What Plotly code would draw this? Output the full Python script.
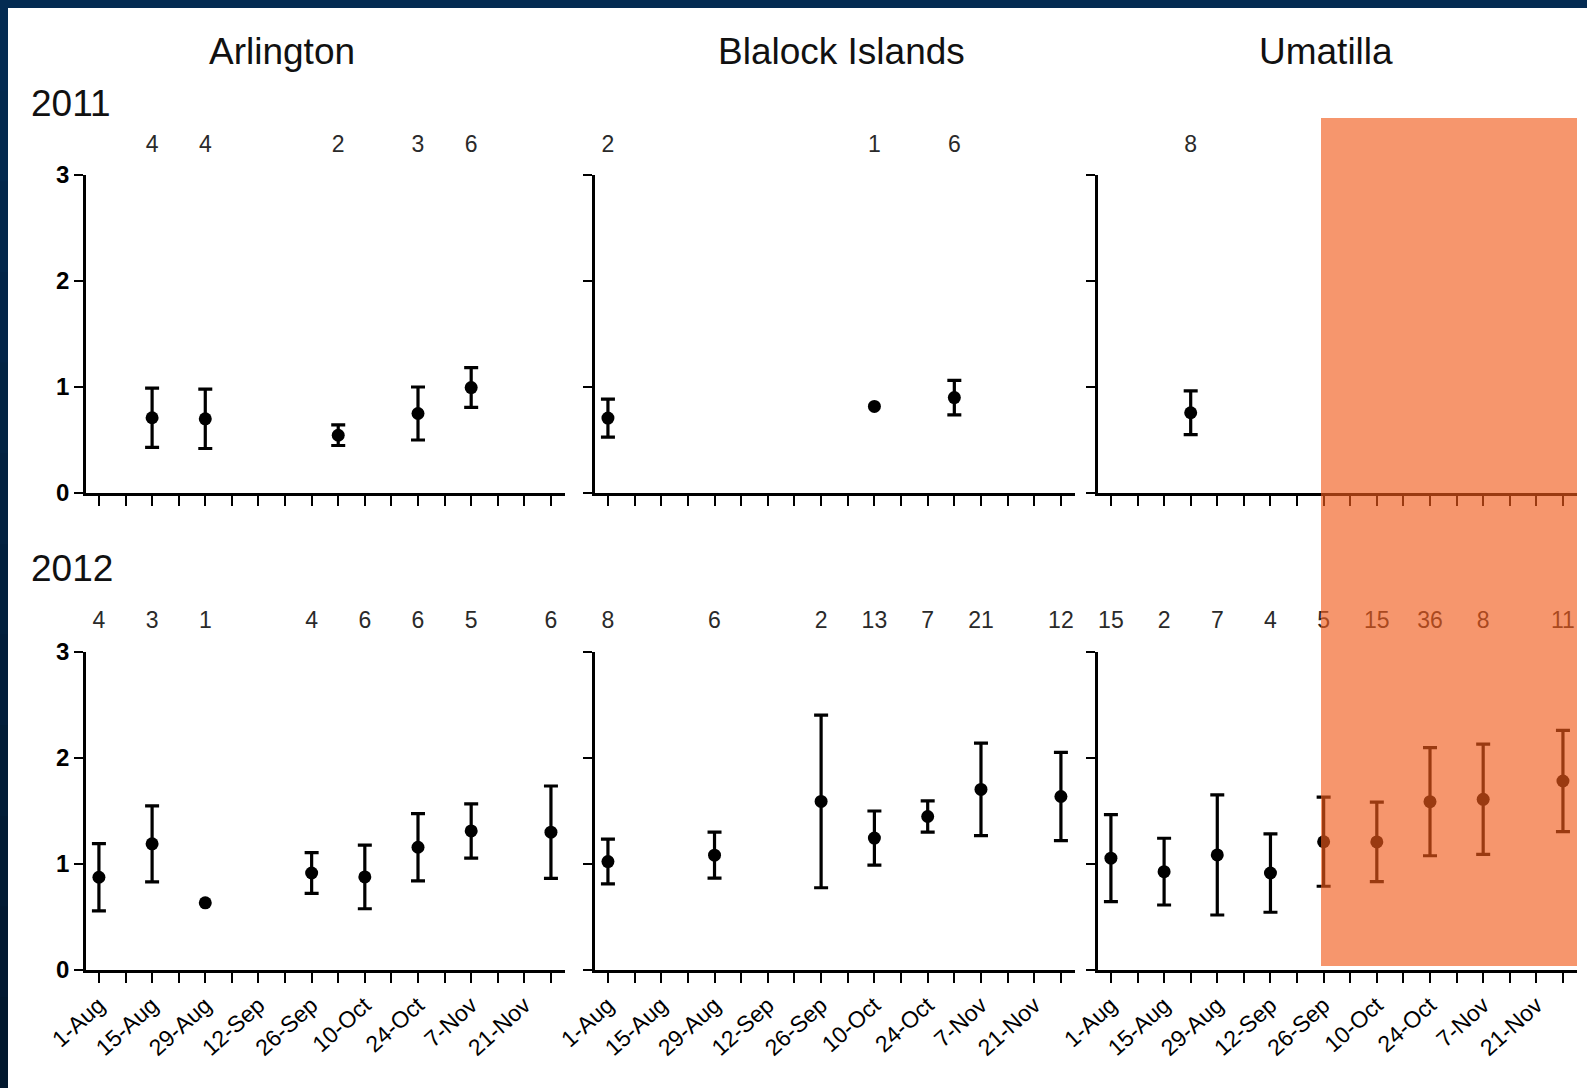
import numpy as np
import plotly.graph_objects as go

# ---------------- data ----------------
sites = ["Arlington", "Blalock Islands", "Umatilla"]
years = ["2011", "2012"]

tick_days = list(range(0, 120, 7))
tick_labels = ["1-Aug", "", "15-Aug", "", "29-Aug", "", "12-Sep", "", "26-Sep", "",
               "10-Oct", "", "24-Oct", "", "7-Nov", "", "21-Nov", ""]

# days since 1-Aug, mean, SEM (None = single fish, no bar), sample size
arl11_day = [14, 28, 63, 84, 98]
arl11_mean = [0.71, 0.70, 0.545, 0.75, 0.995]
arl11_sem = [0.28, 0.28, 0.097, 0.25, 0.188]
arl11_n = [4, 4, 2, 3, 6]

bla11_day = [0, 70, 91]
bla11_mean = [0.707, 0.817, 0.90]
bla11_sem = [0.179, None, 0.163]
bla11_n = [2, 1, 6]

uma11_day = [21]
uma11_mean = [0.757]
uma11_sem = [0.207]
uma11_n = [8]

arl12_day = [0, 14, 28, 56, 70, 84, 98, 119]
arl12_mean = [0.875, 1.19, 0.634, 0.915, 0.878, 1.158, 1.312, 1.30]
arl12_sem = [0.317, 0.358, None, 0.192, 0.30, 0.317, 0.256, 0.436]
arl12_n = [4, 3, 1, 4, 6, 6, 5, 6]

bla12_day = [0, 28, 56, 70, 84, 98, 119]
bla12_mean = [1.023, 1.083, 1.59, 1.245, 1.448, 1.704, 1.637]
bla12_sem = [0.211, 0.217, 0.814, 0.255, 0.148, 0.436, 0.416]
bla12_n = [8, 6, 2, 13, 7, 21, 12]

uma12_day = [0, 14, 28, 42, 56, 70, 84, 98, 119]
uma12_mean = [1.055, 0.928, 1.086, 0.915, 1.21, 1.208, 1.588, 1.61, 1.783]
uma12_sem = [0.41, 0.315, 0.567, 0.37, 0.42, 0.375, 0.51, 0.52, 0.477]
uma12_n = [15, 2, 7, 4, 5, 15, 36, 8, 11]

panels = [
    (arl11_day, arl11_mean, arl11_sem, arl11_n),
    (bla11_day, bla11_mean, bla11_sem, bla11_n),
    (uma11_day, uma11_mean, uma11_sem, uma11_n),
    (arl12_day, arl12_mean, arl12_sem, arl12_n),
    (bla12_day, bla12_mean, bla12_sem, bla12_n),
    (uma12_day, uma12_mean, uma12_sem, uma12_n),
]

# ---------------- layout helpers ----------------
W, H = 1587, 1088
FONT = "Liberation Sans, Arial, sans-serif"


def fx(p):
    return p / W


def fy(p):
    return 1 - p / H


col_px = [(86, 565), (595, 1075), (1098, 1577)]
row_px = [(175, 493), (652, 970)]
label_px = [146, 622]

fig = go.Figure()
layout = dict(
    template="none",
    width=W, height=H,
    margin=dict(l=0, r=0, t=0, b=0, pad=0, autoexpand=False),
    paper_bgcolor="white", plot_bgcolor="rgba(0,0,0,0)",
    showlegend=False,
    font=dict(family=FONT, color="black"),
)

for i, (d, m, s, n) in enumerate(panels):
    r, c = divmod(i, 3)
    k = i + 1
    xs = "" if k == 1 else str(k)
    ys_lab = str(k + 6)
    with_bar = [j for j, v in enumerate(s) if v is not None]
    no_bar = [j for j, v in enumerate(s) if v is None]
    fig.add_trace(go.Scatter(
        x=[d[j] for j in with_bar], y=[m[j] for j in with_bar], mode="markers",
        marker=dict(color="black", size=13, symbol="circle"),
        error_y=dict(type="data", array=[s[j] for j in with_bar], color="black",
                     thickness=3.2, width=7),
        xaxis="x" + xs, yaxis="y" + xs, cliponaxis=False, hoverinfo="skip",
    ))
    if no_bar:
        fig.add_trace(go.Scatter(
            x=[d[j] for j in no_bar], y=[m[j] for j in no_bar], mode="markers",
            marker=dict(color="black", size=13, symbol="circle"),
            xaxis="x" + xs, yaxis="y" + xs, cliponaxis=False, hoverinfo="skip",
        ))
    # sample sizes above each panel (own hidden y axis)
    fig.add_trace(go.Scatter(
        x=d, y=[0.5] * len(d), mode="text", text=[str(v) for v in n],
        textfont=dict(size=23, color="#2a2a2a", family=FONT),
        textposition="middle center",
        xaxis="x" + xs, yaxis="y" + ys_lab, hoverinfo="skip",
    ))
    x0, x1 = col_px[c]
    y0, y1 = row_px[r]
    layout["xaxis" + xs] = dict(
        domain=[fx(x0), fx(x1)], range=[-3.4, 122.7], anchor="y" + xs,
        showline=True, linecolor="black", linewidth=2.5,
        ticks="outside", ticklen=10, tickwidth=2.2, tickcolor="black",
        tickvals=tick_days, ticktext=tick_labels, tickangle=-42,
        showticklabels=(r == 1), automargin=False,
        tickfont=dict(size=23, color="black", family=FONT),
        showgrid=False, zeroline=False, fixedrange=True,
    )
    layout["yaxis" + xs] = dict(
        domain=[fy(y1), fy(y0)], range=[0, 3], anchor="x" + xs,
        showline=True, linecolor="black", linewidth=2.5,
        ticks="outside", ticklen=9, tickwidth=2.2, tickcolor="black",
        tickvals=[0, 1, 2, 3], ticktext=["0", "1", "2", "3"],
        showticklabels=(c == 0), automargin=False,
        tickfont=dict(size=24, color="black", family=FONT, weight="bold"),
        showgrid=False, zeroline=False, fixedrange=True,
    )
    ly = label_px[r]
    layout["yaxis" + ys_lab] = dict(
        domain=[fy(ly + 22), fy(ly - 22)], range=[0, 1], anchor="x" + xs,
        visible=False, showgrid=False, zeroline=False, fixedrange=True,
    )

annotations = []
title_x = [282, 841, 1326]
for name, x in zip(sites, title_x):
    annotations.append(dict(text=name, x=fx(x), y=fy(51), xref="paper", yref="paper",
                            xanchor="center", yanchor="middle", showarrow=False,
                            font=dict(size=37, color="#111111", family=FONT)))
for yr, y in zip(years, [103, 568]):
    annotations.append(dict(text=yr, x=fx(29), y=fy(y), xref="paper", yref="paper",
                            xanchor="left", yanchor="middle", showarrow=False,
                            font=dict(size=37, color="#111111", family=FONT)))
layout["annotations"] = annotations

shapes = []
# highlighted period on Umatilla
shapes.append(dict(type="rect", xref="paper", yref="paper",
                   x0=fx(1321), x1=fx(1577), y0=fy(966), y1=fy(118),
                   fillcolor="rgba(241,90,27,0.64)", line=dict(width=0), layer="above"))
# dark frame edges
shapes.append(dict(type="rect", xref="paper", yref="paper",
                   x0=0, x1=1, y0=fy(8), y1=1,
                   fillcolor="#042B52", line=dict(width=0), layer="above"))
nseg = 12
for j in range(nseg):
    t = j / (nseg - 1)
    rr = int(4 + (2 - 4) * t)
    gg = int(43 + (24 - 43) * t)
    bb = int(82 + (46 - 82) * t)
    shapes.append(dict(type="rect", xref="paper", yref="paper",
                       x0=0, x1=fx(8), y0=fy((j + 1) * H / nseg) - 0.001, y1=fy(j * H / nseg),
                       fillcolor=f"rgb({rr},{gg},{bb})", line=dict(width=0), layer="above"))
layout["shapes"] = shapes

fig.update_layout(**layout)
fig.write_html(
    "out.html",
    config={"displayModeBar": False},
    post_script="document.body.style.margin='0px';document.body.style.padding='0px';"
                "document.body.style.overflow='hidden';",
)
